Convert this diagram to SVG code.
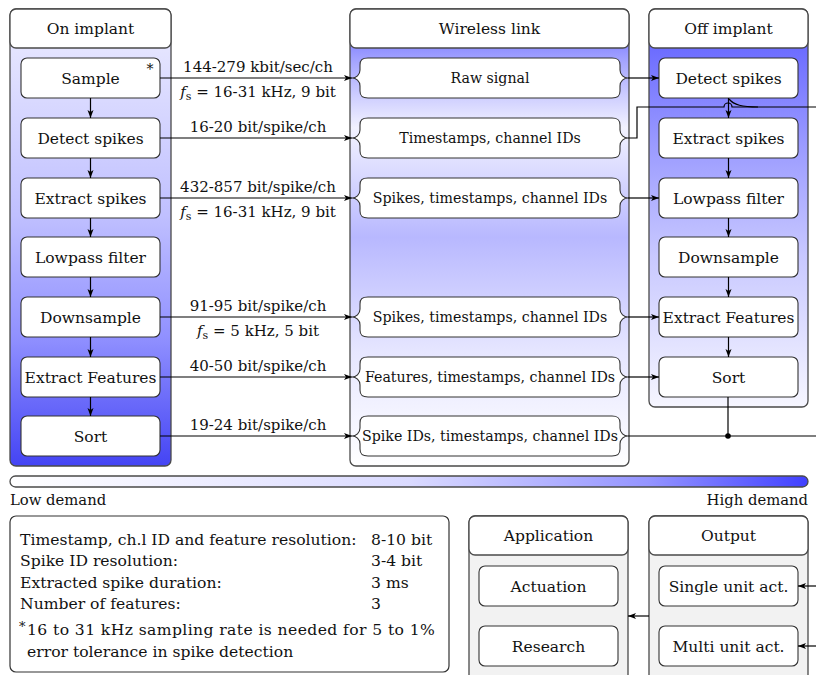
<svg xmlns="http://www.w3.org/2000/svg" xmlns:xlink="http://www.w3.org/1999/xlink" width="816" height="675" viewBox="0 0 816 675">
<style>
text{font-family:"DejaVu Serif","Liberation Serif","Noto Serif",serif;fill:#111}
.n{font-size:15.5px;text-anchor:middle}
.w{font-size:14.2px;text-anchor:middle}
.e{font-size:15px;text-anchor:middle}
.i{font-size:15.6px}
.box{fill:#fff;stroke:#333;stroke-width:1.1}
.cont{stroke:#4a4a4a;stroke-width:1.3}
.hdr{fill:#fff;stroke:#4a4a4a;stroke-width:1.3}
.ln{fill:none;stroke:#000;stroke-width:1.2}
.ar{fill:none;stroke:#000;stroke-width:1.2;marker-end:url(#ah)}
</style>
<defs>
<marker id="ah" markerUnits="userSpaceOnUse" markerWidth="9" markerHeight="7" refX="8" refY="3.5" orient="auto">
<path d="M0,0.5 L8,3.5 L0,6.5 L2,3.5 Z" fill="#000"/>
</marker>
<linearGradient id="gOn" x1="0" y1="0" x2="0" y2="1">
<stop offset="0" stop-color="#ededff"/>
<stop offset="0.45" stop-color="#c0c0ff"/>
<stop offset="0.72" stop-color="#9090ff"/>
<stop offset="1" stop-color="#4444f4"/>
</linearGradient>
<linearGradient id="gW" x1="0" y1="0" x2="0" y2="1">
<stop offset="0" stop-color="#5858ff"/>
<stop offset="0.12" stop-color="#a8a8ff"/>
<stop offset="0.26" stop-color="#f2f2ff"/>
<stop offset="0.5" stop-color="#b8b8ff"/>
<stop offset="0.75" stop-color="#e6e6ff"/>
<stop offset="1" stop-color="#ffffff"/>
</linearGradient>
<linearGradient id="gOff" x1="0" y1="0" x2="0" y2="1">
<stop offset="0" stop-color="#5a5aff"/>
<stop offset="0.35" stop-color="#9c9cff"/>
<stop offset="0.62" stop-color="#c8c8ff"/>
<stop offset="1" stop-color="#f6f6ff"/>
</linearGradient>
<linearGradient id="gBar" x1="0" y1="0" x2="1" y2="0">
<stop offset="0" stop-color="#ffffff"/>
<stop offset="0.5" stop-color="#dadaff"/>
<stop offset="0.8" stop-color="#9494ff"/>
<stop offset="1" stop-color="#4040ff"/>
</linearGradient>
<path id="brace" class="box" d="M368,0 L612,0 C618,0 620,2 620,7 L620,12 C620,17 624,20 628,20 C624,20 620,23 620,28 L620,33 C620,38 618,40 612,40 L368,40 C362,40 360,38 360,33 L360,28 C360,23 356,20 352,20 C356,20 360,17 360,12 L360,7 C360,2 362,0 368,0 Z"/>
</defs>

<rect width="816" height="675" fill="#fff"/>

<!-- Containers -->
<g id="on-implant">
<rect class="cont" x="10" y="9" width="161" height="457" rx="6" fill="url(#gOn)"/>
<rect class="hdr" x="10" y="9" width="161" height="39" rx="6"/>
<text class="n" x="90.5" y="34">On implant</text>
</g>
<g id="wireless-link">
<rect class="cont" x="350" y="9" width="279" height="457" rx="6" fill="url(#gW)"/>
<rect class="hdr" x="350" y="9" width="279" height="39" rx="6"/>
<text class="n" x="489.5" y="34">Wireless link</text>
</g>
<g id="off-implant">
<rect class="cont" x="649" y="9" width="159" height="398" rx="6" fill="url(#gOff)"/>
<rect class="hdr" x="649" y="9" width="159" height="39" rx="6"/>
<text class="n" x="728.5" y="34">Off implant</text>
</g>

<!-- On implant nodes -->
<g id="on-sample"><rect class="box" x="21" y="58" width="139" height="40" rx="6"/><text class="n" x="90.5" y="83.5">Sample</text><text x="150" y="74" style="font-size:14px;text-anchor:middle">*</text></g>
<g id="on-detect"><rect class="box" x="21" y="118" width="139" height="40" rx="6"/><text class="n" x="90.5" y="143.5">Detect spikes</text></g>
<g id="on-extract"><rect class="box" x="21" y="178" width="139" height="40" rx="6"/><text class="n" x="90.5" y="203.5">Extract spikes</text></g>
<g id="on-lowpass"><rect class="box" x="21" y="237" width="139" height="40" rx="6"/><text class="n" x="90.5" y="262.5">Lowpass filter</text></g>
<g id="on-downsample"><rect class="box" x="21" y="297" width="139" height="40" rx="6"/><text class="n" x="90.5" y="322.5">Downsample</text></g>
<g id="on-features"><rect class="box" x="21" y="357" width="139" height="40" rx="6"/><text class="n" x="90.5" y="382.5">Extract Features</text></g>
<g id="on-sort"><rect class="box" x="21" y="416" width="139" height="40" rx="6"/><text class="n" x="90.5" y="441.5">Sort</text></g>

<!-- Wireless nodes -->
<g id="w-raw"><use xlink:href="#brace" y="58"/><text class="w" x="490" y="83">Raw signal</text></g>
<g id="w-ts"><use xlink:href="#brace" y="118"/><text class="w" x="490" y="143">Timestamps, channel IDs</text></g>
<g id="w-spikes1"><use xlink:href="#brace" y="178"/><text class="w" x="490" y="203">Spikes, timestamps, channel IDs</text></g>
<g id="w-spikes2"><use xlink:href="#brace" y="297"/><text class="w" x="490" y="322">Spikes, timestamps, channel IDs</text></g>
<g id="w-features"><use xlink:href="#brace" y="357"/><text class="w" x="490" y="382">Features, timestamps, channel IDs</text></g>
<g id="w-spikeids"><use xlink:href="#brace" y="416"/><text class="w" x="490" y="441">Spike IDs, timestamps, channel IDs</text></g>

<!-- Off implant nodes -->
<g id="off-detect"><rect class="box" x="659" y="58" width="139" height="40" rx="6"/><text class="n" x="728.5" y="83.5">Detect spikes</text></g>
<g id="off-extract"><rect class="box" x="659" y="118" width="139" height="40" rx="6"/><text class="n" x="728.5" y="143.5">Extract spikes</text></g>
<g id="off-lowpass"><rect class="box" x="659" y="178" width="139" height="40" rx="6"/><text class="n" x="728.5" y="203.5">Lowpass filter</text></g>
<g id="off-downsample"><rect class="box" x="659" y="237" width="139" height="40" rx="6"/><text class="n" x="728.5" y="262.5">Downsample</text></g>
<g id="off-features"><rect class="box" x="659" y="297" width="139" height="40" rx="6"/><text class="n" x="728.5" y="322.5">Extract Features</text></g>
<g id="off-sort"><rect class="box" x="659" y="357" width="139" height="40" rx="6"/><text class="n" x="728.5" y="382.5">Sort</text></g>

<!-- Demand bar -->
<g id="demand-bar">
<rect x="10" y="476" width="798" height="11" rx="5.5" fill="url(#gBar)" stroke="#4a4a4a" stroke-width="1.3"/>
<text x="10" y="505" style="font-size:14.8px">Low demand</text>
<text x="808" y="505" style="font-size:14.8px;text-anchor:end">High demand</text>
</g>

<!-- Info box -->
<g id="info">
<rect x="10" y="516" width="439" height="156" rx="6" fill="#fff" stroke="#333" stroke-width="1.2"/>
<text class="i" x="20" y="545">Timestamp, ch.l ID and feature resolution:</text>
<text class="i" x="371" y="545">8-10 bit</text>
<text class="i" x="20" y="566">Spike ID resolution:</text>
<text class="i" x="371" y="566">3-4 bit</text>
<text class="i" x="20" y="588">Extracted spike duration:</text>
<text class="i" x="371" y="588">3 ms</text>
<text class="i" x="20" y="609">Number of features:</text>
<text class="i" x="371" y="609">3</text>
<text x="19" y="631" style="font-size:13px">*</text>
<text class="i" x="27" y="635" style="letter-spacing:0.4px">16 to 31 kHz sampling rate is needed for 5 to 1%</text>
<text class="i" x="27" y="657">error tolerance in spike detection</text>
</g>

<!-- Application / Output -->
<g id="application">
<rect class="cont" x="469" y="516" width="159" height="170" rx="6" fill="#f2f2f2"/>
<rect class="hdr" x="469" y="516" width="159" height="39" rx="6"/>
<text class="n" x="548.5" y="541">Application</text>
</g>
<g id="app-actuation"><rect class="box" x="479" y="566" width="139" height="40" rx="6"/><text class="n" x="548.5" y="591.5">Actuation</text></g>
<g id="app-research"><rect class="box" x="479" y="626" width="139" height="40" rx="6"/><text class="n" x="548.5" y="651.5">Research</text></g>
<g id="output">
<rect class="cont" x="649" y="516" width="159" height="170" rx="6" fill="#f2f2f2"/>
<rect class="hdr" x="649" y="516" width="159" height="39" rx="6"/>
<text class="n" x="728.5" y="541">Output</text>
</g>
<g id="out-single"><rect class="box" x="659" y="566" width="139" height="40" rx="6"/><text class="n" x="728.5" y="591.5">Single unit act.</text></g>
<g id="out-multi"><rect class="box" x="659" y="626" width="139" height="40" rx="6"/><text class="n" x="728.5" y="651.5">Multi unit act.</text></g>

<!-- Connectors -->
<g id="connectors">
<path class="ar" d="M90.5,98 V118"/>
<path class="ar" d="M90.5,158 V178"/>
<path class="ar" d="M90.5,218 V237"/>
<path class="ar" d="M90.5,277 V297"/>
<path class="ar" d="M90.5,337 V357"/>
<path class="ar" d="M90.5,397 V416"/>

<path class="ar" d="M160,78 H352"/>
<path class="ar" d="M160,138 H352"/>
<path class="ar" d="M160,198 H352"/>
<path class="ar" d="M160,317 H352"/>
<path class="ar" d="M160,377 H352"/>
<path class="ar" d="M160,436 H352"/>

<path class="ar" d="M628,78 H659"/>
<path class="ln" d="M628,138 H637 V107 H724 A4,4 0 0 1 732,107 H816"/>
<path class="ln" d="M729,99 C734,105 742,107 758,107"/>
<path class="ar" d="M628,198 H659"/>
<path class="ar" d="M628,317 H659"/>
<path class="ar" d="M628,377 H659"/>
<path class="ln" d="M628,436 H816"/>
<path class="ln" d="M728,397 V436"/>
<circle cx="728" cy="436" r="2.8" fill="#000"/>

<path class="ar" d="M728.5,98 V118"/>
<path class="ar" d="M728.5,158 V178"/>
<path class="ar" d="M728.5,218 V237"/>
<path class="ar" d="M728.5,277 V297"/>
<path class="ar" d="M728.5,337 V357"/>

<path class="ar" d="M649,616 H628"/>
<path class="ar" d="M816,586 H798"/>
<path class="ar" d="M816,646 H798"/>
</g>

<!-- Edge labels -->
<g id="edge-labels">
<text class="e" x="258" y="72">144-279 kbit/sec/ch</text>
<text class="e" x="258" y="97"><tspan font-style="italic">f</tspan><tspan font-size="11" dy="3">s</tspan><tspan dy="-3"> = 16-31 kHz, 9 bit</tspan></text>
<text class="e" x="258" y="132">16-20 bit/spike/ch</text>
<text class="e" x="258" y="192">432-857 bit/spike/ch</text>
<text class="e" x="258" y="217"><tspan font-style="italic">f</tspan><tspan font-size="11" dy="3">s</tspan><tspan dy="-3"> = 16-31 kHz, 9 bit</tspan></text>
<text class="e" x="258" y="311">91-95 bit/spike/ch</text>
<text class="e" x="258" y="336"><tspan font-style="italic">f</tspan><tspan font-size="11" dy="3">s</tspan><tspan dy="-3"> = 5 kHz, 5 bit</tspan></text>
<text class="e" x="258" y="371">40-50 bit/spike/ch</text>
<text class="e" x="258" y="430">19-24 bit/spike/ch</text>
</g>
</svg>
